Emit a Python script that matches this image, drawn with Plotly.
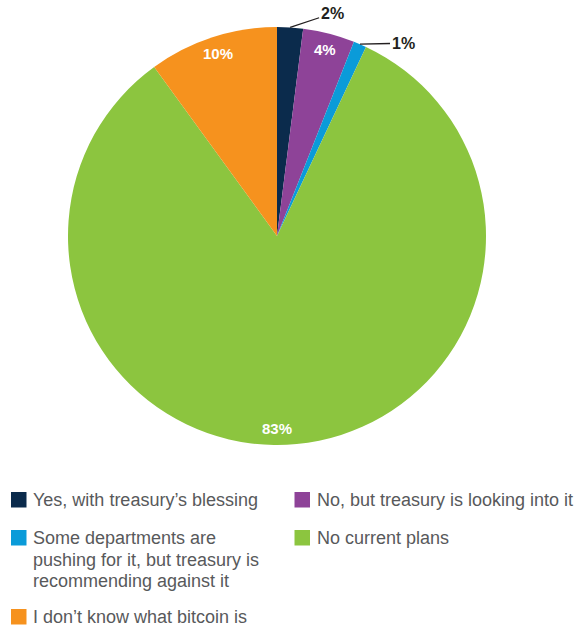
import math
import plotly.graph_objects as go

categories = [
    "Yes, with treasury’s blessing",
    "No, but treasury is looking into it",
    "Some departments are pushing for it, but treasury is recommending against it",
    "No current plans",
    "I don’t know what bitcoin is",
]
values = [2, 4, 1, 83, 10]
colors = ["#0b2b4c", "#8e4398", "#0a9bd9", "#8cc53f", "#f6921e"]
legend_lines = [
    ["Yes, with treasury’s blessing"],
    ["No, but treasury is looking into it"],
    ["Some departments are", "pushing for it, but treasury is", "recommending against it"],
    ["No current plans"],
    ["I don’t know what bitcoin is"],
]

W, H = 582, 628
CX, CY, R = 277, 236, 209  # pie centre/radius in pixels
FONT = "Liberation Sans"

fig = go.Figure()
fig.add_trace(go.Pie(
    labels=categories,
    values=values,
    sort=False,
    direction="clockwise",
    rotation=0,
    marker=dict(colors=colors, line=dict(width=0)),
    textinfo="none",
    showlegend=False,
    hoverinfo="label+value",
    domain=dict(x=[(CX - R) / W, (CX + R) / W], y=[1 - (CY + R) / H, 1 - (CY - R) / H]),
))

# value labels, positioned from the data
total = sum(values)
cum = 0
outside = {0: (42, -14), 2: (43, -1)}   # leader-line text offsets (px)
angle_override = {3: math.pi}           # 83% label sits at the bottom
annotations = []
for i, v in enumerate(values):
    mid = (cum + v / 2) / total * 2 * math.pi
    cum += v
    if i in outside:
        px = CX + R * math.sin(mid)
        py = CY - R * math.cos(mid)
        ax, ay = outside[i]
        annotations.append(dict(
            x=px / W, y=1 - py / H, xref="paper", yref="paper",
            text=f"<b>{v}%</b>", showarrow=True, arrowhead=0, arrowwidth=1.3,
            arrowcolor="#231f20", ax=ax, ay=ay, standoff=0,
            font=dict(family=FONT, size=16, color="#231f20"),
        ))
    else:
        a = angle_override.get(i, mid)
        rr = R * 0.92
        px = CX + rr * math.sin(a)
        py = CY - rr * math.cos(a)
        annotations.append(dict(
            x=px / W, y=1 - py / H, xref="paper", yref="paper",
            xanchor="center", yanchor="middle", showarrow=False,
            text=f"<b>{v}%</b>",
            font=dict(family=FONT, size=15, color="white"),
        ))

# custom legend
legend_items = [  # (series index, square x, square top y, first text line centre y)
    (0, 11, 492, 499.5),
    (1, 294.5, 492, 499.5),
    (2, 11, 530, 538),
    (3, 294.5, 530, 538),
    (4, 11, 609, 617),
]
LINE_H = 21.7
shapes = []
for idx, sx, sy, ty in legend_items:
    shapes.append(dict(type="rect", xref="paper", yref="paper",
                       x0=sx / W, x1=(sx + 15.5) / W, y0=1 - sy / H, y1=1 - (sy + 15.5) / H,
                       fillcolor=colors[idx], line=dict(width=0)))
    for k, line in enumerate(legend_lines[idx]):
        annotations.append(dict(
            x=(sx + 20) / W, y=1 - (ty + k * LINE_H) / H, xref="paper", yref="paper",
            xanchor="left", yanchor="middle", align="left", showarrow=False,
            text=line,
            font=dict(family=FONT, size=18, color="#58595b"),
        ))

fig.update_layout(
    width=W, height=H,
    margin=dict(l=0, r=0, t=0, b=0),
    paper_bgcolor="white", plot_bgcolor="white",
    annotations=annotations, shapes=shapes,
)
fig.write_html(
    "out.html",
    config={"displayModeBar": False},
    post_script="document.body.style.margin='0';document.body.style.overflow='hidden';",
)
